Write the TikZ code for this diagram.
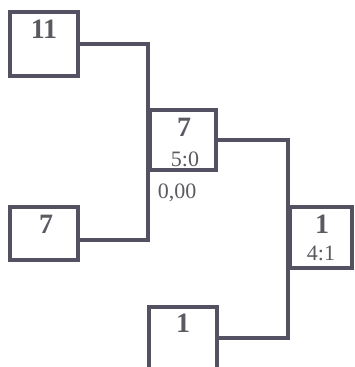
\documentclass[tikz,border=0pt]{standalone}
\usepackage{fontspec}
\setmainfont{Liberation Serif}
\definecolor{ln}{RGB}{84,82,98}
\definecolor{tx}{RGB}{90,90,96}
\begin{document}
\begin{tikzpicture}[x=1pt,y=1pt,
  box/.style={draw=ln,line width=4pt,fill=white,minimum width=#1,inner sep=0pt},
  big/.style={text=tx,font=\fontsize{28}{28}\selectfont\bfseries,inner sep=0pt},
  small/.style={text=tx,font=\fontsize{22}{22}\selectfont,inner sep=0pt},
  conn/.style={draw=ln,line width=3.5pt}]
\useasboundingbox (0,0) rectangle (355,367);
\clip (0,0) rectangle (355,367);
\node[box=68pt,minimum height=64pt] (b11) at (44,323) {};
\node[box=68pt,minimum height=53pt] (b7) at (44,133.5) {};
\node[box=66pt,minimum height=60pt] (mid) at (183,227) {};
\node[box=62pt,minimum height=61pt] (rt) at (321,129.5) {};
\node[box=68pt,minimum height=62pt] (bot) at (183,29) {};
\node[big] (t11) at (44,338) {11};
\node[big] (t7) at (46,143) {7};
\node[big] (tm) at (184,239.5) {7};
\node[small] (sm) at (185,208) {5:0};
\node[small] (sq) at (177,174) {0,00};
\node[big] (tr) at (322,143) {1};
\node[small] (sr) at (321,114) {4:1};
\node[big] (tb) at (183,44) {1};
\coordinate (b7c) at ([yshift=-6.5pt]b7.east);
\draw[conn] (b11.east) -| (b7c -| mid.west) -- (b7c);
\draw[conn] (mid.east) -| (bot.east -| rt.west) -- (bot.east);
\end{tikzpicture}
\end{document}
